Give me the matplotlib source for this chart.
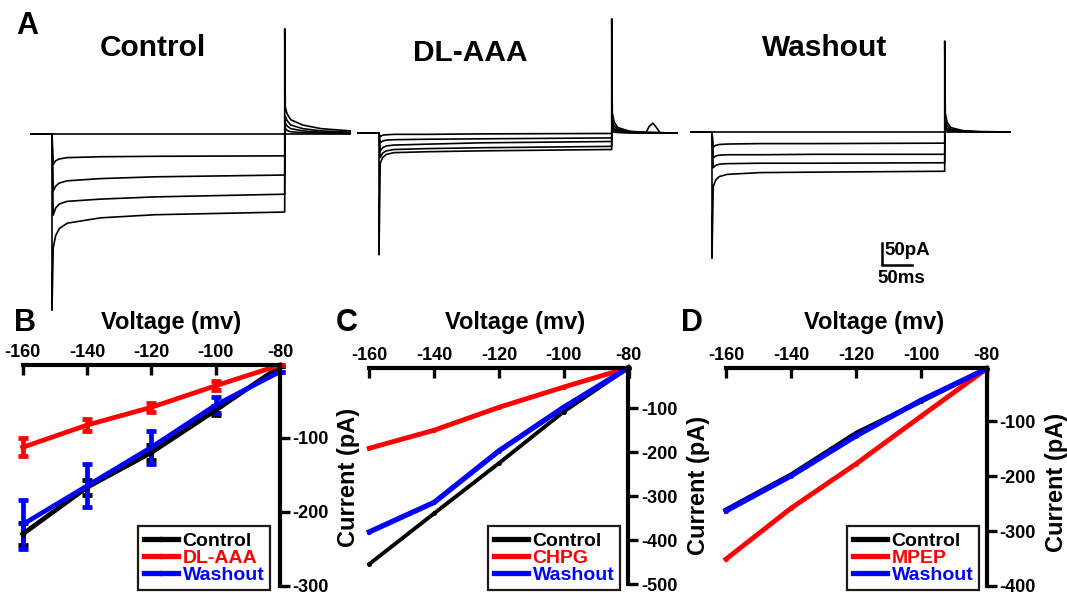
import matplotlib
matplotlib.use("Agg")
import matplotlib.pyplot as plt

plt.rcParams['font.family'] = ['Liberation Sans', 'DejaVu Sans']
plt.rcParams['font.weight'] = 'bold'
plt.rcParams['axes.unicode_minus'] = False

# ---- A: current traces (pA) ----
t_pre = -34
step_t = [2, 6, 12, 25, 80, 170, 384]        # ms after step onset
tail_t = [385, 388, 394, 414, 444, 492]      # ms, after step offset

ctrl_step = [[0, 0, 0, 0, 0, 0, 0],
             [-68, -60, -56, -53, -51, -50, -49],
             [-128, -117, -110, -105, -100, -96, -92],
             [-182, -166, -157, -151, -146, -141, -135],
             [-255, -228, -212, -200, -188, -181, -175]]
ctrl_tail = [[0, 0, 0, 0, 0, 0],
             [12, 8, 5, 3, 2, 1],
             [25, 18, 12, 7, 4, 2],
             [40, 30, 20, 12, 7, 4],
             [60, 45, 32, 20, 12, 7]]
ctrl_peaks = [-395, 236]

dl_step = [[-8, -5, -4, -3, -3, -2, -1],
           [-22, -18, -16, -15, -14, -13, -11],
           [-40, -33, -29, -27, -25, -22, -19],
           [-55, -45, -40, -37, -35, -33, -30],
           [-68, -55, -48, -44, -42, -40, -37]]
dl_tail = [[4, 2, 1, 0, 0, 0],
           [10, 6, 3, 1, 0, 0],
           [18, 10, 5, 2, 1, 0],
           [28, 16, 8, 3, 1, 0],
           [45, 25, 12, 4, 1, 0]]
dl_peaks = [-273, 256]
dl_bump_t = [440, 446, 452, 458, 464]
dl_bump_i = [0, 15, 22, 12, 0]

wash_step = [[0, 0, 0, 0, 0, 0, 0],
             [-34, -30, -28, -27, -26, -26, -25],
             [-58, -54, -52, -51, -51, -50, -50],
             [-80, -75, -72, -71, -70, -70, -69],
             [-123, -108, -100, -95, -91, -90, -88]]
wash_tail = [[0, 0, 0, 0, 0, 0],
             [8, 4, 2, 1, 0, 0],
             [15, 8, 4, 1, 0, 0],
             [25, 14, 6, 2, 0, 0],
             [42, 22, 10, 3, 1, 0]]
wash_peaks = [-283, 204]

scale_pA = 50
scale_ms = 50

# ---- B, C, D: I-V curves ----
volts = [-160, -140, -120, -100, -80]

b_ctrl = [-230, -167, -120, -63, -4]
b_ctrl_err = [15, 10, 10, 6, 0]
b_dl = [-113, -83, -59, -30, -2]
b_dl_err = [12, 8, 6, 6, 0]
b_wash = [-217, -165, -113, -56, -11]
b_wash_err = [33, 29, 22, 11, 0]

c_ctrl = [-454, -339, -225, -108, -8]
c_chpg = [-191, -150, -98, -52, -8]
c_wash = [-381, -314, -197, -98, -8]

d_ctrl = [-261, -197, -121, -63, -4]
d_mpep = [-351, -258, -177, -90, -4]
d_wash = [-263, -199, -126, -61, -4]

W, H = 1067, 593
fig = plt.figure(figsize=(W / 100, H / 100), dpi=100)

MS_PER_PX = 50 / 30.3
PA_PER_PX = 50 / 22.3


def px_axes(x0, y0, x1, y1):
    return fig.add_axes([x0 / W, 1 - y1 / H, (x1 - x0) / W, (y1 - y0) / H])


def ftext(x, y, s, **kw):
    fig.text(x / W, 1 - y / H, s, ha="center", va="center", fontweight="bold", **kw)


def trace_axes(onset_x, base_y):
    ax = px_axes(onset_x - 40, 0, onset_x + 330, 330)
    ax.set_xlim(-40 * MS_PER_PX, 330 * MS_PER_PX)
    ax.set_ylim(-(330 - base_y) * PA_PER_PX, base_y * PA_PER_PX)
    ax.axis("off")
    return ax


def draw_traces(ax, steps, tails, peaks):
    last = len(steps) - 1
    for k, (s, tl) in enumerate(zip(steps, tails)):
        t = [t_pre, 0]
        i = [0, 0]
        if k == last:
            t.append(0)
            i.append(peaks[0])
        t += step_t
        i += s
        if k == last:
            t.append(step_t[-1])
            i.append(peaks[1])
        t += tail_t
        i += tl
        ax.plot(t, i, color="black", lw=1.2, clip_on=False)


ax_c = trace_axes(52, 134)
draw_traces(ax_c, ctrl_step, ctrl_tail, ctrl_peaks)
ax_d = trace_axes(379, 133)
draw_traces(ax_d, dl_step, dl_tail, dl_peaks)
ax_d.plot(dl_bump_t, dl_bump_i, color="black", lw=1.2)
ax_w = trace_axes(712, 132)
draw_traces(ax_w, wash_step, wash_tail, wash_peaks)

# scale bar
sx, sy = 280, -299
ax_w.plot([sx, sx, sx + scale_ms], [sy + scale_pA, sy, sy], color="black", lw=1.8,
          solid_joinstyle="miter", clip_on=False)
ax_w.text(sx + 4, sy + scale_pA / 2 + 8, "%dpA" % scale_pA, fontsize=13.5,
          fontweight="bold", ha="left", va="center")
ax_w.text(sx + 33, sy - 30, "%dms" % scale_ms, fontsize=13.5,
          fontweight="bold", ha="center", va="center")

ftext(27, 26, "A", fontsize=22)
ftext(153, 48, "Control", fontsize=21.5)
ftext(470, 53, "DL-AAA", fontsize=21.5)
ftext(825, 48, "Washout", fontsize=21.5)


def iv_axes(x0, y0, x1, y1, ylim, yticks):
    ax = px_axes(x0, y0, x1, y1)
    ax.set_xlim(-160, -80)
    ax.set_ylim(*ylim)
    ax.patch.set_alpha(0)
    for s in ["left", "bottom"]:
        ax.spines[s].set_visible(False)
    for s in ["top", "right"]:
        ax.spines[s].set_linewidth(3)
    ax.xaxis.tick_top()
    ax.yaxis.tick_right()
    ax.set_xticks(volts)
    ax.set_yticks(yticks)
    ax.tick_params(axis="x", direction="in", length=7, width=2.4, pad=3, labelsize=13)
    ax.tick_params(axis="y", direction="out", length=7, width=2.4, pad=2, labelsize=13)
    return ax


def iv_legend(ax, handles, labels, x0, y1):
    leg = ax.legend(handles, labels, loc="lower left",
                    bbox_to_anchor=(x0 / W, 1 - y1 / H), bbox_transform=fig.transFigure,
                    borderaxespad=0, fontsize=14, labelspacing=-0.02, handlelength=1.75,
                    handletextpad=0.25, borderpad=0.3, fancybox=False, framealpha=1,
                    labelcolor="linecolor")
    leg.get_frame().set_edgecolor("#231815")
    leg.get_frame().set_linewidth(1.6)
    for txt in leg.get_texts():
        txt.set_fontweight("bold")
    for ln in leg.get_lines():
        ln.set_linewidth(3.8)


# B
axb = iv_axes(22.7, 365, 280, 586, (-300, -2), [-100, -200, -300])
hb = []
for vals, err, col in [(b_ctrl, b_ctrl_err, "black"), (b_dl, b_dl_err, "red"),
                       (b_wash, b_wash_err, "blue")]:
    eb = axb.errorbar(volts, vals, yerr=err, color=col, lw=3.4, marker="o", ms=3,
                      elinewidth=3.4, capsize=3.8, capthick=3.4, clip_on=False)
    for part in eb.lines:
        parts = part if isinstance(part, tuple) else (part,)
        for p in parts:
            if p is not None:
                p.set_clip_on(False)
    hb.append(eb[0])
iv_legend(axb, hb, ["Control", "DL-AAA", "Washout"], 138, 590)
ftext(25, 323, "B", fontsize=22)
ftext(171, 323, "Voltage (mv)", fontsize=17)
ftext(348, 477, "Current (pA)", fontsize=17, rotation=90)

# C
axc = iv_axes(369.3, 367.7, 628.5, 584.3, (-500, -8), [-100, -200, -300, -400, -500])
hc = []
for vals, col, lw in [(c_ctrl, "black", 2.8), (c_chpg, "red", 3.5), (c_wash, "blue", 3.8)]:
    ln, = axc.plot(volts, vals, color=col, lw=lw, marker="o", ms=2.5, clip_on=False)
    hc.append(ln)
iv_legend(axc, hc, ["Control", "CHPG", "Washout"], 488, 590)
ftext(347, 323, "C", fontsize=22)
ftext(515, 323, "Voltage (mv)", fontsize=17)
ftext(698, 485, "Current (pA)", fontsize=17, rotation=90)

# D
axd = iv_axes(726, 368.3, 986.5, 586, (-400, -3), [-100, -200, -300, -400])
hd = []
for vals, col, lw in [(d_ctrl, "black", 3.3), (d_mpep, "red", 3.5), (d_wash, "blue", 3.8)]:
    ln, = axd.plot(volts, vals, color=col, lw=lw, marker="o", ms=2.5, clip_on=False)
    hd.append(ln)
iv_legend(axd, hd, ["Control", "MPEP", "Washout"], 847, 590)
ftext(692, 323, "D", fontsize=22)
ftext(874, 323, "Voltage (mv)", fontsize=17)
ftext(1056, 482, "Current (pA)", fontsize=17, rotation=90)

fig.savefig("out.png", dpi=100)
